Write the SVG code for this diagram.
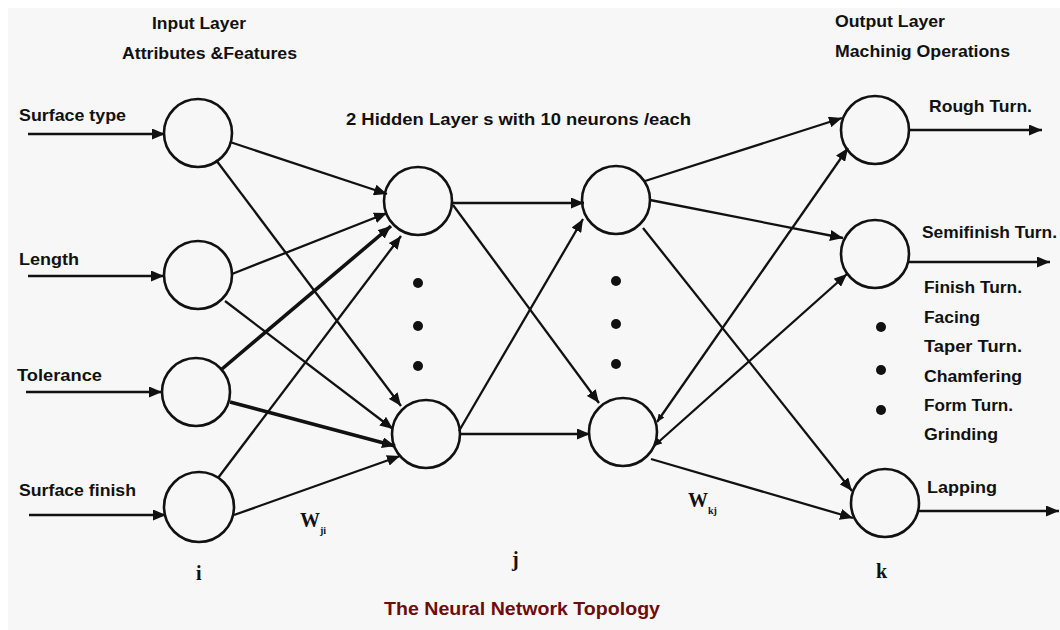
<svg xmlns="http://www.w3.org/2000/svg" width="1060" height="630" viewBox="0 0 1060 630">
<style>
.lbl{font-family:"Liberation Sans",Arial,sans-serif;font-weight:bold;font-size:16px;fill:#111}
.big{font-size:17px}
.ser{font-family:"Liberation Serif","Times New Roman",serif;font-weight:bold;fill:#111}
.node{fill:none;stroke:#111;stroke-width:2.6}
.ln{stroke:#111;stroke-width:2.3;fill:none;marker-end:url(#ah)}
.thk{stroke-width:3.6}
.dot{fill:#111}
.title{font-family:"Liberation Sans",Arial,sans-serif;font-weight:bold;font-size:18px;fill:#6e0b0b}
</style>
<defs>
<marker id="ah" markerUnits="userSpaceOnUse" markerWidth="15" markerHeight="11" refX="13" refY="5.5" orient="auto">
<path d="M0,0 L13,5.5 L0,11 Z" fill="#111"/>
</marker>
<marker id="ahs" markerUnits="userSpaceOnUse" markerWidth="9" markerHeight="7" refX="8" refY="3.5" orient="auto-start-reverse">
<path d="M0,0 L8,3.5 L0,7 Z" fill="#111"/>
</marker>
</defs>
<rect x="0" y="0" width="1060" height="630" fill="#ffffff"/>
<rect x="8" y="8" width="1052" height="622" fill="#f7f7f7"/>

<g id="labels">
<text class="lbl" x="152" y="29" textLength="94" lengthAdjust="spacingAndGlyphs">Input Layer</text>
<text class="lbl" x="122" y="59" textLength="175" lengthAdjust="spacingAndGlyphs">Attributes &amp;Features</text>
<text class="lbl big" x="346" y="125" textLength="345" lengthAdjust="spacingAndGlyphs">2 Hidden Layer s with 10 neurons /each</text>
<text class="lbl" x="835" y="27" textLength="110" lengthAdjust="spacingAndGlyphs">Output Layer</text>
<text class="lbl" x="835" y="57" textLength="175" lengthAdjust="spacingAndGlyphs">Machinig Operations</text>
<text class="ser" x="300" y="527" font-size="20">W<tspan font-size="10" dy="7">ji</tspan></text>
<text class="ser" x="688" y="507" font-size="20">W<tspan font-size="10" dy="7">kj</tspan></text>
<text class="ser" x="196" y="580" font-size="20">i</text>
<text class="ser" x="512" y="566" font-size="20">j</text>
<text class="ser" x="876" y="578" font-size="20">k</text>
<text class="title" x="384" y="615" textLength="276" lengthAdjust="spacingAndGlyphs">The Neural Network Topology</text>
</g>

<g id="input-labels">
<text class="lbl big" x="19" y="121" textLength="107" lengthAdjust="spacingAndGlyphs">Surface type</text>
<text class="lbl big" x="19" y="265" textLength="60" lengthAdjust="spacingAndGlyphs">Length</text>
<text class="lbl big" x="17" y="381" textLength="85" lengthAdjust="spacingAndGlyphs">Tolerance</text>
<text class="lbl big" x="19" y="496" textLength="117" lengthAdjust="spacingAndGlyphs">Surface finish</text>
</g>

<g id="output-labels">
<text class="lbl big" x="929" y="112" textLength="103" lengthAdjust="spacingAndGlyphs">Rough Turn.</text>
<text class="lbl big" x="922" y="238" textLength="135" lengthAdjust="spacingAndGlyphs">Semifinish Turn.</text>
<text class="lbl" x="924" y="293" textLength="98" lengthAdjust="spacingAndGlyphs">Finish Turn.</text>
<text class="lbl" x="924" y="323" textLength="56" lengthAdjust="spacingAndGlyphs">Facing</text>
<text class="lbl" x="924" y="352" textLength="98" lengthAdjust="spacingAndGlyphs">Taper Turn.</text>
<text class="lbl" x="924" y="382" textLength="98" lengthAdjust="spacingAndGlyphs">Chamfering</text>
<text class="lbl" x="924" y="411" textLength="89" lengthAdjust="spacingAndGlyphs">Form Turn.</text>
<text class="lbl" x="924" y="440" textLength="74" lengthAdjust="spacingAndGlyphs">Grinding</text>
<text class="lbl big" x="927" y="493" textLength="70" lengthAdjust="spacingAndGlyphs">Lapping</text>
</g>

<g id="connectors">
<line class="ln" x1="28" y1="134" x2="165" y2="134"/>
<line class="ln" x1="28" y1="276" x2="164" y2="276"/>
<line class="ln" x1="26" y1="392" x2="162" y2="392"/>
<line class="ln" x1="29" y1="515" x2="166" y2="515"/>

<line class="ln" x1="230" y1="142" x2="387" y2="194"/>
<line class="ln" x1="216" y1="160" x2="401" y2="406"/>
<line class="ln" x1="232" y1="274" x2="387" y2="213"/>
<line class="ln" x1="225" y1="301" x2="393" y2="429"/>
<line class="ln thk" x1="222" y1="369" x2="391" y2="226"/>
<line class="ln thk" x1="230" y1="402" x2="395" y2="446"/>
<line class="ln" x1="218" y1="478" x2="401" y2="236"/>
<line class="ln" x1="234" y1="515" x2="400" y2="456"/>

<line class="ln" x1="452" y1="203" x2="584" y2="203"/>
<line class="ln" x1="453" y1="205" x2="599" y2="403"/>
<line class="ln" x1="459" y1="431" x2="583" y2="219"/>
<line class="ln" x1="459" y1="434" x2="590" y2="434"/>

<line class="ln" x1="645" y1="181" x2="842" y2="118"/>
<line class="ln" x1="650" y1="200" x2="843" y2="238"/>
<line class="ln" x1="643" y1="228" x2="852" y2="491"/>
<line class="ln" x1="657" y1="422" x2="848" y2="148" marker-start="url(#ahs)"/>
<line class="ln" x1="654" y1="446" x2="847" y2="274" marker-start="url(#ahs)"/>
<line class="ln" x1="651" y1="459" x2="853" y2="518"/>

<line class="ln" x1="909" y1="130" x2="1042" y2="130"/>
<line class="ln" x1="909" y1="262" x2="1050" y2="262"/>
<line class="ln" x1="919" y1="511" x2="1059" y2="511"/>
</g>

<g id="input-1"><circle class="node" cx="198" cy="133" r="34"/></g>
<g id="input-2"><circle class="node" cx="198" cy="275" r="34"/></g>
<g id="input-3"><circle class="node" cx="196" cy="392" r="34"/></g>
<g id="input-4"><circle class="node" cx="199" cy="507" r="35"/></g>

<g id="hidden1-top"><circle class="node" cx="418" cy="201" r="34"/></g>
<g id="hidden1-dots"><circle class="dot" cx="418" cy="283" r="5"/><circle class="dot" cx="418" cy="326" r="5"/><circle class="dot" cx="418" cy="366" r="5"/></g>
<g id="hidden1-bottom"><circle class="node" cx="426" cy="434" r="34"/></g>

<g id="hidden2-top"><circle class="node" cx="616" cy="200" r="34"/></g>
<g id="hidden2-dots"><circle class="dot" cx="616" cy="281" r="5"/><circle class="dot" cx="616" cy="324" r="5"/><circle class="dot" cx="616" cy="364" r="5"/></g>
<g id="hidden2-bottom"><circle class="node" cx="623" cy="432" r="34"/></g>

<g id="output-1"><circle class="node" cx="875" cy="130" r="34"/></g>
<g id="output-2"><circle class="node" cx="875" cy="254" r="34"/></g>
<g id="output-dots"><circle class="dot" cx="881" cy="327" r="5"/><circle class="dot" cx="881" cy="370" r="5"/><circle class="dot" cx="881" cy="410" r="5"/></g>
<g id="output-3"><circle class="node" cx="885" cy="503" r="34"/></g>
</svg>
